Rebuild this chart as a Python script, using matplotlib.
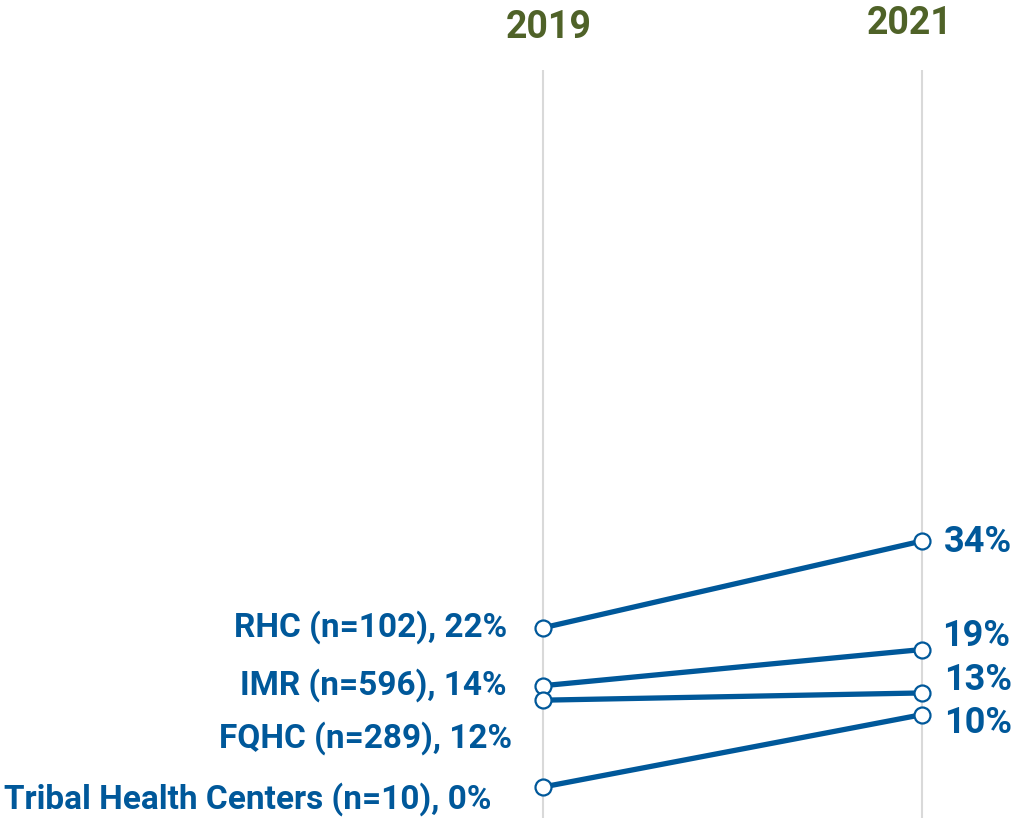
import matplotlib
matplotlib.use("Agg")
import matplotlib.pyplot as plt

years = ["2019", "2021"]
categories = ["RHC (n=102)", "IMR (n=596)", "FQHC (n=289)", "Tribal Health Centers (n=10)"]
values_2019 = [22, 14, 12, 0]
values_2021 = [34, 19, 13, 10]

BLUE = "#00589A"
GREEN = "#4F6228"
GRID = "#D9D9D9"
FONT = ["Roboto", "DejaVu Sans"]

W, H = 1031, 818
fig = plt.figure(figsize=(W / 100, H / 100), dpi=100)
ax = fig.add_axes([0, 0, 1, 1])

x0_px, x1_px = 543, 922
ax.set_xlim(-x0_px / (x1_px - x0_px), 1 + (W - x1_px) / (x1_px - x0_px))
ppu = (787 - 541) / 34.0
ax.set_ylim(-31 / ppu, (H - 31) / ppu)
ax.axis("off")

ymin = ax.get_ylim()[0]
ax.vlines([0, 1], ymin, (H - 31 - 70) / ppu, color=GRID, lw=1.5, zorder=1)

for a, b in zip(values_2019, values_2021):
    ax.plot([0, 1], [a, b], color=BLUE, lw=3.8, solid_capstyle="butt", zorder=2,
            marker="o", markersize=11.5, markerfacecolor="white",
            markeredgecolor=BLUE, markeredgewidth=1.6)

PT = 0.72  # px -> pt at 100 dpi
# left labels: (dx px, dy px) offsets from the 2019 point
left_off = [(-36, 1), (-37, 1), (-31, -38), (-52, -12)]
for cat, v, (dx, dy) in zip(categories, values_2019, left_off):
    ax.annotate(f"{cat}, {v}%", (0, v), xytext=(dx * PT, dy * PT),
                textcoords="offset points", ha="right", va="center",
                fontsize=24, fontweight="bold", color=BLUE, family=FONT)

right_off = [(22, -1), (20, 14), (22, 13), (22, -8)]
for v, (dx, dy) in zip(values_2021, right_off):
    ax.annotate(f"{v}%", (1, v), xytext=(dx * PT, dy * PT),
                textcoords="offset points", ha="left", va="center",
                fontsize=26, fontweight="bold", color=BLUE, family=FONT)

year_off = [(6, 27), (-12, 23)]
for xi, (yr, (dx, ypx)) in enumerate(zip(years, year_off)):
    ax.annotate(yr, (xi, 1), xycoords=ax.get_xaxis_transform(),
                xytext=(dx * PT, -ypx * PT), textcoords="offset points",
                ha="center", va="center", fontsize=27, fontweight="bold",
                color=GREEN, family=FONT)

fig.savefig("out.png", dpi=100)
